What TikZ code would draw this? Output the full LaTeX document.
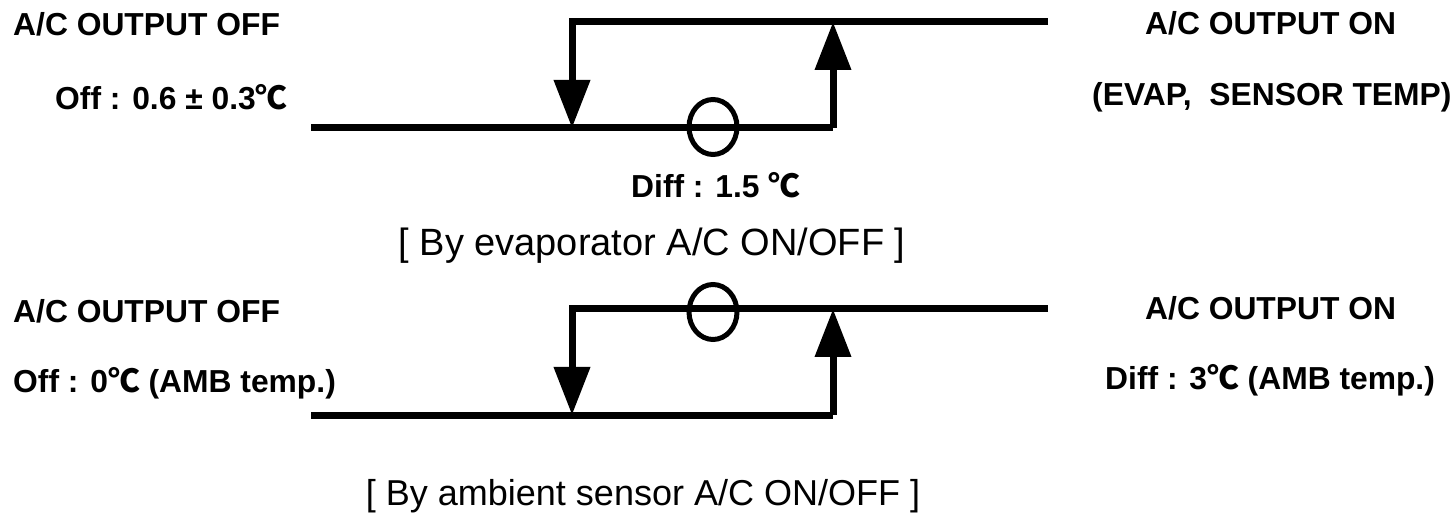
\documentclass[tikz,border=0pt]{standalone}
\usepackage{fontspec}
\setmainfont{Liberation Sans}
\newfontfamily\cjk{Noto Sans CJK KR}
\usetikzlibrary{arrows.meta,shapes.geometric}
\newcommand{\degc}{{\cjk ℃}}
\tikzset{
  wire/.style={line width=7pt, line join=miter},
  lbl/.style={font=\fontsize{31.8}{32}\selectfont\bfseries, inner sep=0pt, anchor=west},
  ttl/.style={font=\fontsize{36}{36}\selectfont, inner sep=0pt},
  tipdn/.style={-{Triangle[width=35pt,length=48pt]}},
  ring/.style={line width=5pt, draw=black, fill=none, ellipse, minimum width=48pt, minimum height=55pt, inner sep=0pt}
}
\begin{document}
\begin{tikzpicture}[x=1pt,y=-1pt]
\useasboundingbox[fill=white] (0,0) rectangle (1456,526);
% ---------- upper diagram ----------
\coordinate (a1) at (311,128);
\coordinate (b1) at (833,128);
\coordinate (c1) at (833,22);
\coordinate (d1) at (1048,22);
\coordinate (e1) at (572,22);
\coordinate (f1) at (572,128);
\draw[wire] (a1) -- (b1);
\draw[wire, tipdn] (b1) -- (c1);
\draw[wire, tipdn] (d1) -- (e1) -- (f1);
\node[ring] (o1) at (713,127) {};
\node[lbl] (t1) at (13,24) {A/C OUTPUT OFF};
\node[lbl] (t2) at (55,97) {Off : 0.6 ± 0.3\degc};
\node[lbl] (t3) at (1145,23) {A/C OUTPUT ON};
\node[lbl] (t4) at (1092,97) {(EVAP,\ \ SENSOR TEMP)};
\node[lbl] (t5) at (631,185) {Diff : 1.5 \degc};
\node[ttl, font=\fontsize{38}{38}\selectfont] (h1) at (652,246) {[ By evaporator A/C ON/OFF ]};
% ---------- lower diagram ----------
\coordinate (a2) at (311,415);
\coordinate (b2) at (833,415);
\coordinate (c2) at (833,309);
\coordinate (d2) at (1048,309);
\coordinate (e2) at (572,309);
\coordinate (f2) at (572,415);
\draw[wire] (a2) -- (b2);
\draw[wire, tipdn] (b2) -- (c2);
\draw[wire, tipdn] (d2) -- (e2) -- (f2);
\node[ring] (o2) at (713,312) {};
\node[lbl] (s1) at (13,311) {A/C OUTPUT OFF};
\node[lbl] (s2) at (13,383) {Off : 0\degc\ (AMB temp.)};
\node[lbl] (s3) at (1145,308) {A/C OUTPUT ON};
\node[lbl] (s4) at (1105,380) {Diff : 3\degc\ (AMB temp.)};
\node[ttl] (h2) at (643,496) {[ By ambient sensor A/C ON/OFF ]};
\end{tikzpicture}
\end{document}
